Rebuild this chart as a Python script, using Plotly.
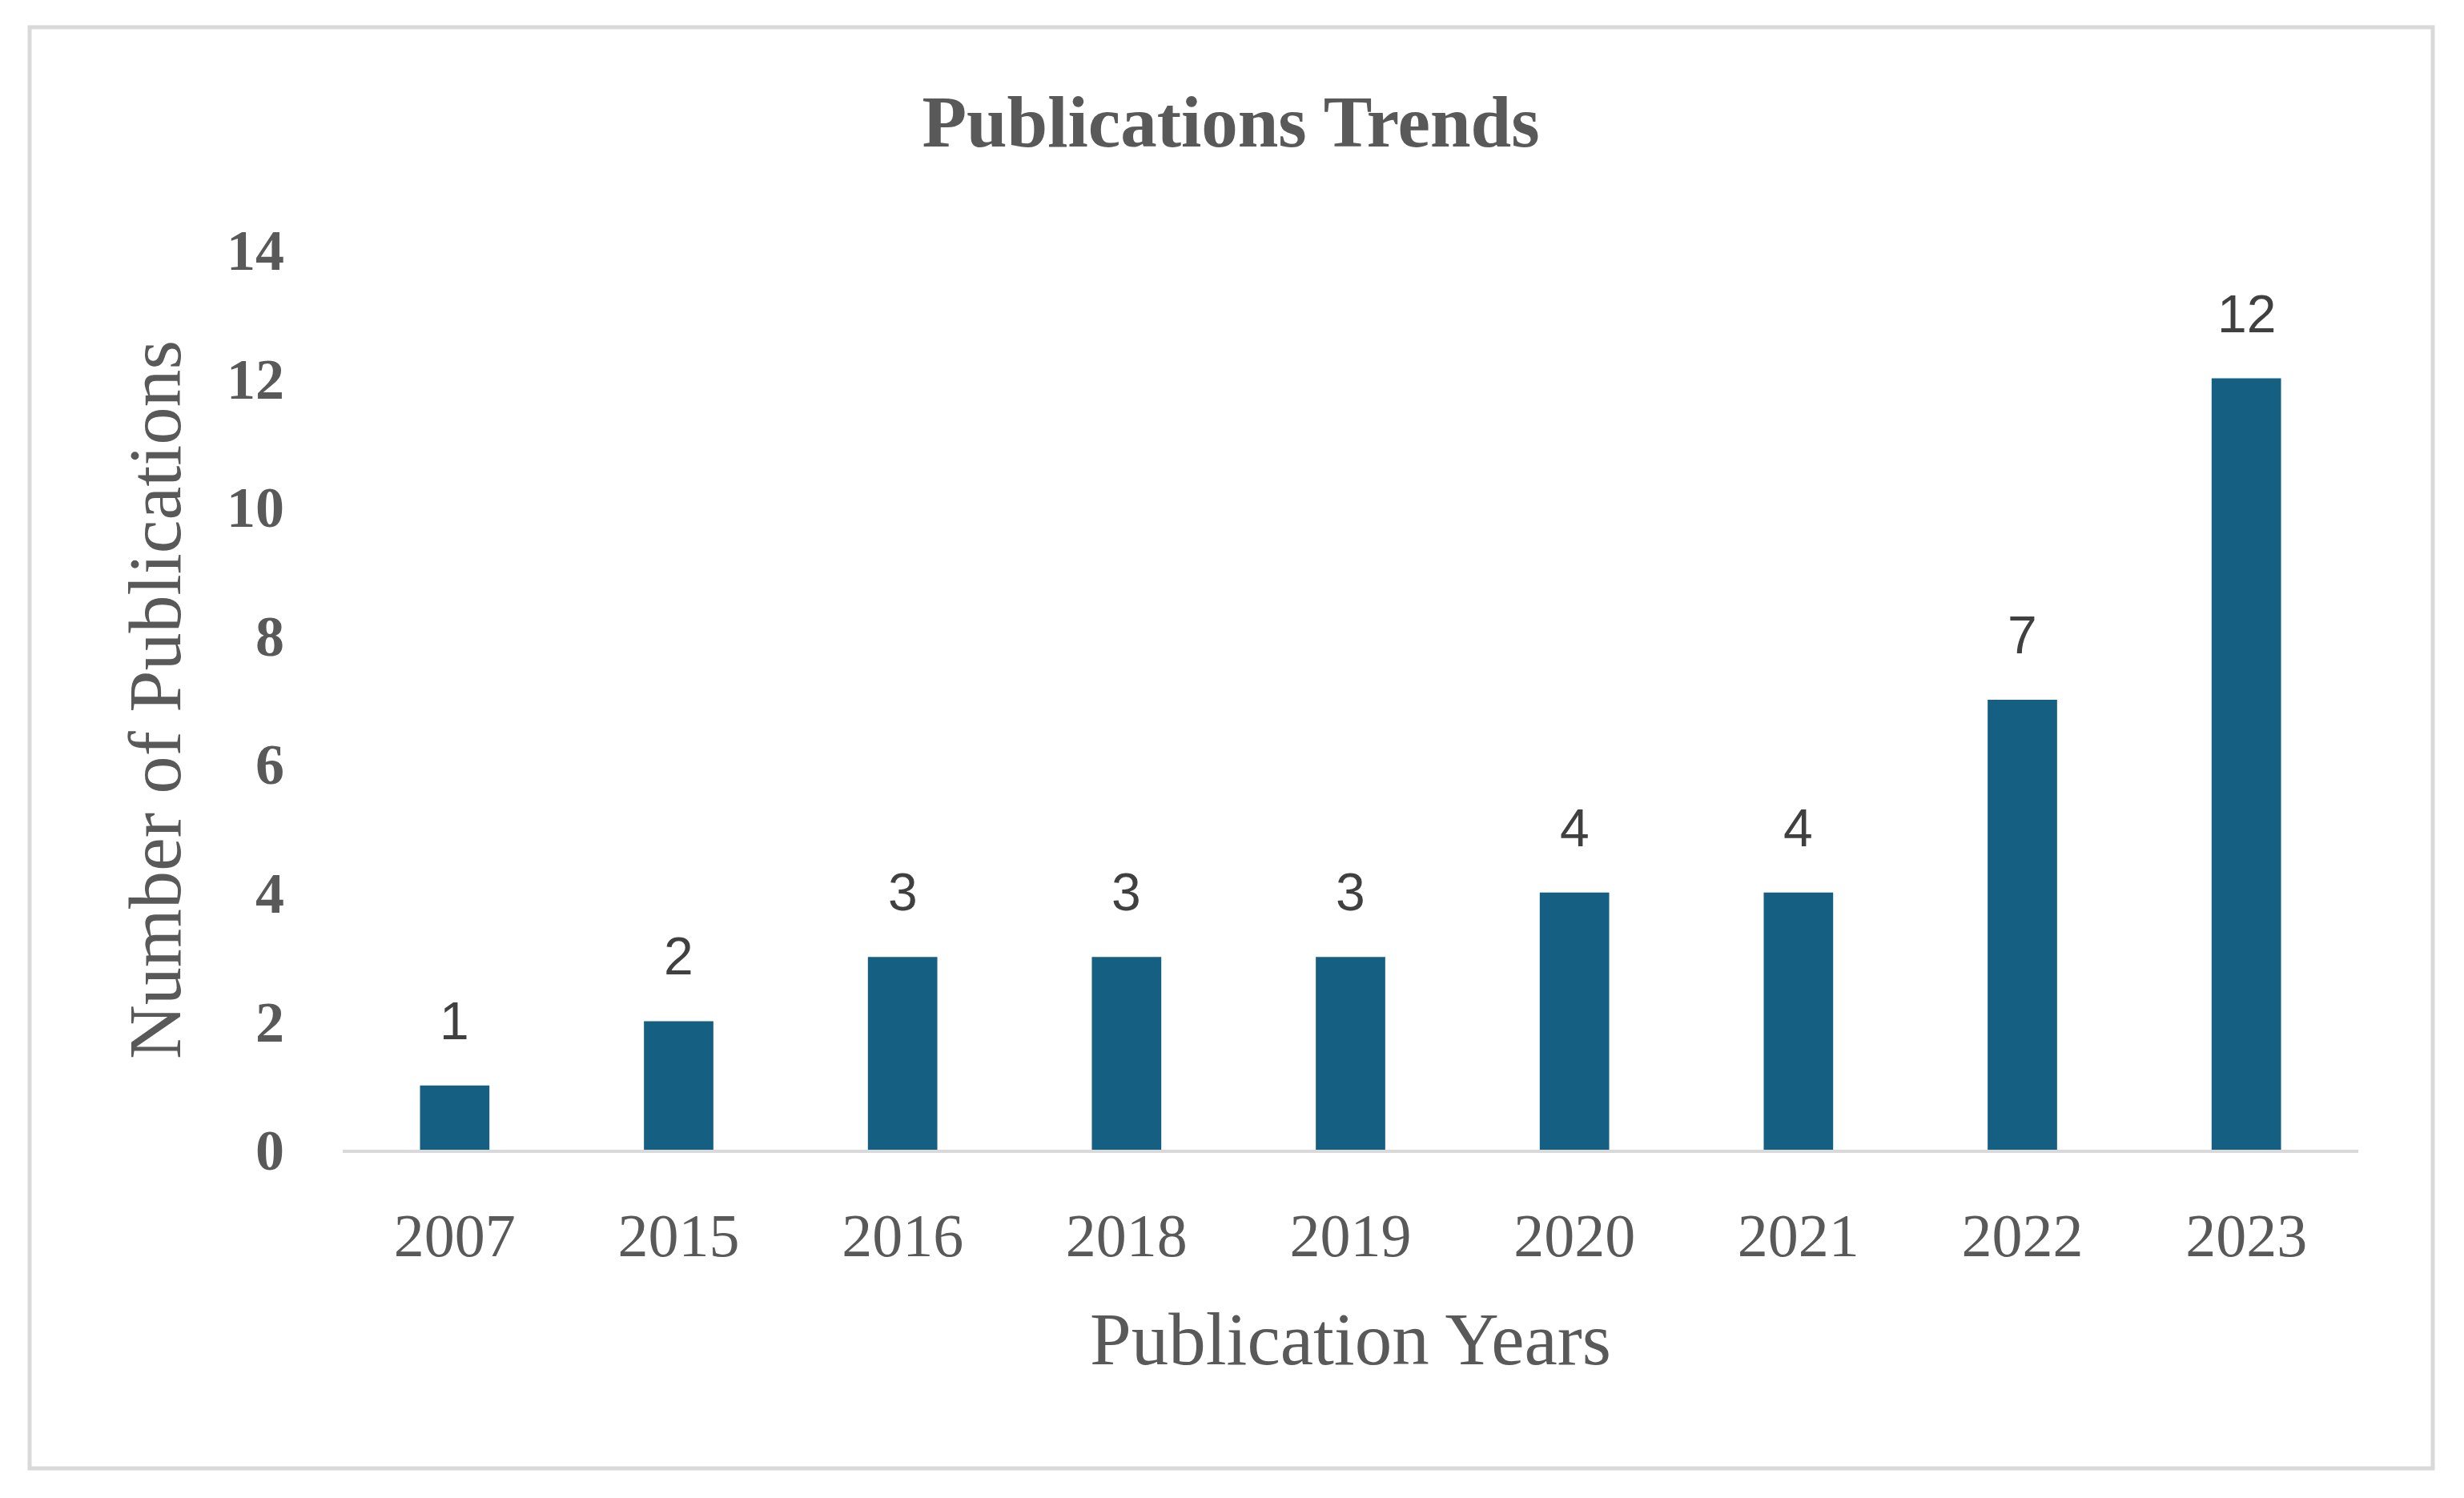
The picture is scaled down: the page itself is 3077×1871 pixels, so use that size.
import plotly.graph_objects as go

years = ["2007", "2015", "2016", "2018", "2019", "2020", "2021", "2022", "2023"]
counts = [1, 2, 3, 3, 3, 4, 4, 7, 12]
y_ticks = [0, 2, 4, 6, 8, 10, 12, 14]

OFF = 8  # default page body margin
W, H = 3077 - 2 * OFF, 1871 - 2 * OFF
# plot area in page pixels: x 428..2945, y 312..1436
ML = 428 - OFF
MR = (3077 - OFF) - 2945
MT = 312 - OFF
MB = (1871 - OFF) - 1436
SERIF = "Liberation Serif, Times New Roman, serif"
SANS = "Liberation Sans, Arial, sans-serif"
GRAY = "#595959"

fig = go.Figure()
fig.add_trace(go.Bar(
    x=years, y=counts,
    marker=dict(color="#156082", line=dict(width=0)),
    showlegend=False,
    hoverinfo="x+y",
))

for i, c in enumerate(counts):
    fig.add_annotation(
        x=i, y=c, xref="x", yref="y",
        text=str(c), showarrow=False,
        yanchor="bottom", yshift=42,
        font=dict(family=SANS, size=66, color="#404040"),
    )

pw = W - ML - MR
ph = H - MT - MB
bx0, bx1, by0, by1 = 37 - OFF, 3038 - OFF, 34 - OFF, 1834 - OFF
fig.add_shape(
    type="rect", xref="paper", yref="paper",
    x0=(bx0 - ML) / pw, x1=(bx1 - ML) / pw,
    y0=(H - MB - by1) / ph, y1=(H - MB - by0) / ph,
    line=dict(color="#D9D9D9", width=5),
    fillcolor="rgba(0,0,0,0)", layer="below",
)

fig.update_layout(
    width=W, height=H,
    margin=dict(l=ML, r=MR, t=MT, b=MB, pad=0),
    paper_bgcolor="white", plot_bgcolor="white",
    bargap=0.69,
    title=dict(
        text="<b>Publications Trends</b>",
        x=(1537 - OFF) / W, xref="container", xanchor="center",
        y=1 - (151 - OFF) / H, yref="container", yanchor="middle",
        font=dict(family=SERIF, size=91, color=GRAY),
    ),
    xaxis=dict(
        type="category", range=[-0.5, len(years) - 0.5], autorange=False,
        showline=True, linecolor="#D9D9D9", linewidth=4,
        showgrid=False, zeroline=False, ticks="",
        tickfont=dict(family=SERIF, size=76, color=GRAY),
        ticklabelstandoff=38,
        title=dict(text="Publication Years", standoff=56,
                   font=dict(family=SERIF, size=93, color=GRAY)),
    ),
    yaxis=dict(
        range=[0, 14], autorange=False, tickvals=y_ticks,
        ticktext=[f"<b>{v}</b>" for v in y_ticks],
        showline=False, showgrid=False, zeroline=False, ticks="",
        tickfont=dict(family=SERIF, size=72, color=GRAY),
        ticklabelstandoff=72,
        title=dict(text="Number of Publications", standoff=26,
                   font=dict(family=SERIF, size=94, color=GRAY)),
    ),
)

fig.write_html("out.html")
